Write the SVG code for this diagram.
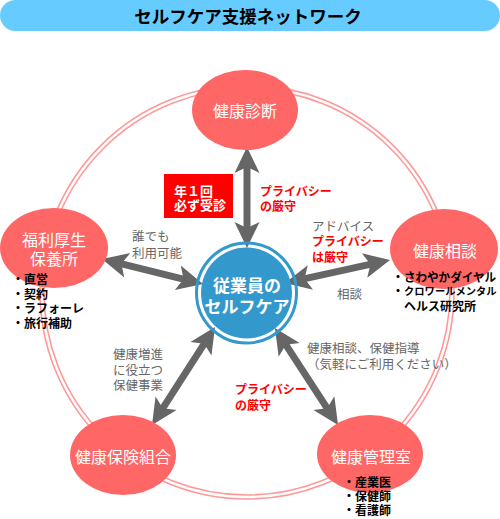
<svg xmlns="http://www.w3.org/2000/svg" width="500" height="519" viewBox="0 0 500 519">
<style>
text{font-family:"Noto Sans CJK JP","Noto Sans",sans-serif;dominant-baseline:central}
.node{fill:#ff6666}
.nt{fill:#fff;font-size:16px;text-anchor:middle}
.gray{fill:#666;font-size:12.5px}
.red{fill:#ff0000;font-size:12px;font-weight:bold}
.bul{fill:#000;font-size:12px;font-weight:bold}
.ring{fill:none;stroke:#ff9999;stroke-width:1.6}
.arr{stroke:#666;stroke-width:7;fill:none;marker-start:url(#ah);marker-end:url(#ah)}
</style>
<defs>
<marker id="ah" markerUnits="userSpaceOnUse" viewBox="0 -13 28 26" markerWidth="28" markerHeight="26" refX="18" refY="0" orient="auto-start-reverse">
<path d="M28,0 L2,-12.5 L8,0 L2,12.5 Z" fill="#666"/>
</marker>
</defs>
<rect width="500" height="519" fill="#fff"/>
<g id="title">
<rect x="0" y="0" width="500" height="31" rx="15.5" fill="#66ccff"/>
<text x="248" y="15.5" text-anchor="middle" font-size="17.5" font-weight="bold" fill="#000">セルフケア支援ネットワーク</text>
</g>
<g id="ring">
<circle class="ring" cx="247" cy="292" r="203"/>
<circle class="ring" cx="247" cy="292" r="207"/>
</g>
<g id="connectors">
<line class="arr" x1="247" y1="157" x2="247" y2="238"/>
<line class="arr" x1="111.7" y1="261.4" x2="193.3" y2="281.6"/>
<line class="arr" x1="294.8" y1="280.9" x2="380.2" y2="262.1"/>
<line class="arr" x1="209.6" y1="335.4" x2="157.4" y2="416.6"/>
<line class="arr" x1="280.4" y1="336.4" x2="332.6" y2="416.6"/>
</g>
<g id="center">
<circle cx="246.5" cy="293" r="50" fill="none" stroke="#3399cc" stroke-width="3"/>
<circle cx="246.5" cy="293" r="45.5" fill="#3399cc"/>
<text x="247" y="284" text-anchor="middle" font-size="17" font-weight="bold" fill="#fff">従業員の</text>
<text x="247" y="305" text-anchor="middle" font-size="17" font-weight="bold" fill="#fff">セルフケア</text>
</g>
<g id="kenkoushindan">
<ellipse class="node" cx="245" cy="110" rx="53" ry="40"/>
<text class="nt" x="245" y="110">健康診断</text>
</g>
<g id="fukuri">
<ellipse class="node" cx="54" cy="248" rx="54" ry="40"/>
<text class="nt" x="54" y="239">福利厚生</text>
<text class="nt" x="54" y="258">保養所</text>
<text class="bul" x="12" y="278">・直営</text>
<text class="bul" x="12" y="293">・契約</text>
<text class="bul" x="12" y="307.5">・ラフォーレ</text>
<text class="bul" x="12" y="322">・旅行補助</text>
</g>
<g id="kenkousoudan">
<ellipse class="node" cx="444" cy="249" rx="54" ry="40"/>
<text class="nt" x="445" y="250">健康相談</text>
<text class="bul" x="392" y="276">・</text>
<text class="bul" x="404" y="276" textLength="92" lengthAdjust="spacingAndGlyphs">さわやかダイヤル</text>
<text class="bul" x="392" y="290.5">・</text>
<text class="bul" x="404" y="290.5" style="font-size:10.3px">クロワールメンタル</text>
<text class="bul" x="404" y="305">ヘルス研究所</text>
</g>
<g id="kenpo">
<ellipse class="node" cx="123" cy="455" rx="53" ry="40"/>
<text class="nt" x="123" y="456">健康保険組合</text>
</g>
<g id="kanrishitsu">
<ellipse class="node" cx="370" cy="454" rx="53" ry="39"/>
<text class="nt" x="371" y="456">健康管理室</text>
<text class="bul" x="343" y="481">・産業医</text>
<text class="bul" x="343" y="495">・保健師</text>
<text class="bul" x="343" y="509.5">・看護師</text>
</g>
<g id="labels">
<rect x="164" y="174" width="69" height="44" fill="#ff0000"/>
<text x="174" y="190" font-size="13" font-weight="bold" fill="#fff">年１回</text>
<text x="174" y="204" font-size="13" font-weight="bold" fill="#fff">必ず受診</text>
<text class="red" x="260" y="190">プライバシー</text>
<text class="red" x="260" y="205">の厳守</text>
<text class="gray" x="132" y="235">誰でも</text>
<text class="gray" x="132" y="252">利用可能</text>
<text class="gray" x="312" y="225">アドバイス</text>
<text class="red" x="312" y="240">プライバシー</text>
<text class="red" x="312" y="256">は厳守</text>
<text class="gray" x="337" y="293">相談</text>
<text class="gray" x="113" y="353">健康増進</text>
<text class="gray" x="113" y="369">に役立つ</text>
<text class="gray" x="113" y="384">保健事業</text>
<text class="gray" x="307" y="347">健康相談、保健指導</text>
<text class="gray" x="307" y="363">（気軽にご利用ください）</text>
<text class="red" x="235" y="388">プライバシー</text>
<text class="red" x="235" y="404">の厳守</text>
</g>
</svg>
